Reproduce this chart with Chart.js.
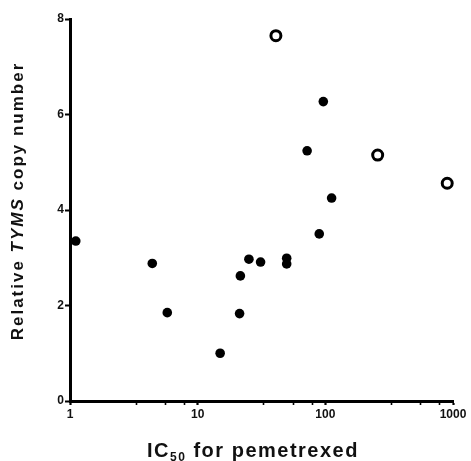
<!DOCTYPE html>
<html>
<head>
<meta charset="utf-8">
<script src="https://cdn.jsdelivr.net/npm/chart.js@4/dist/chart.umd.min.js"></script>
<style>
  html, body { margin: 0; padding: 0; background: #fff; }
  canvas { display: block; }
</style>
</head>
<body>
<canvas id="c" width="471" height="461"></canvas>
<script>
// IC50 for pemetrexed (x, log scale) vs relative TYMS copy number (y)
const filledX = [1.11, 4.41, 5.78, 15, 21.3, 21.6, 25.2, 31.1, 49.8, 49.8, 72, 89.6, 96.4, 112];
const filledY = [3.35, 2.88, 1.85, 1.0, 1.83, 2.62, 2.97, 2.91, 2.99, 2.87, 5.24, 3.50, 6.27, 4.25];
const openX = [41, 257, 901];
const openY = [7.65, 5.15, 4.56];
const xMajorTicks = [1, 10, 100, 1000];
const xMinorTicks = [3.3, 5.6, 7.9, 33, 56, 79, 330, 560, 790];
const yTicks = [0, 2, 4, 6, 8];

const FONT = '"Liberation Sans", Arial, Helvetica, sans-serif';

const titlePlugin = {
  id: 'titles',
  afterDraw(chart) {
    const ctx = chart.ctx;
    ctx.save();
    ctx.fillStyle = '#111';
    // Y title
    ctx.translate(18, 201);
    ctx.rotate(-Math.PI / 2);
    ctx.textBaseline = 'middle';
    ctx.letterSpacing = '2px';
    const ySegs = [
      { t: 'Relative ', f: 'bold 17px ' + FONT },
      { t: 'TYMS', f: 'italic bold 17px ' + FONT },
      { t: ' copy number', f: 'bold 17px ' + FONT }
    ];
    let total = 0;
    ySegs.forEach(s => { ctx.font = s.f; s.w = ctx.measureText(s.t).width; total += s.w; });
    let x = -total / 2;
    ySegs.forEach(s => { ctx.font = s.f; ctx.textAlign = 'left'; ctx.fillText(s.t, x, 0); x += s.w; });
    ctx.restore();

    // X title
    ctx.save();
    ctx.fillStyle = '#111';
    ctx.textBaseline = 'alphabetic';
    ctx.letterSpacing = '1.5px';
    const xSegs = [
      { t: 'IC', f: 'bold 20px ' + FONT, dy: 0 },
      { t: '50', f: 'bold 12px ' + FONT, dy: 4 },
      { t: ' for pemetrexed', f: 'bold 20px ' + FONT, dy: 0 }
    ];
    total = 0;
    xSegs.forEach(s => { ctx.font = s.f; s.w = ctx.measureText(s.t).width; total += s.w; });
    x = 253 - total / 2;
    xSegs.forEach(s => { ctx.font = s.f; ctx.textAlign = 'left'; ctx.fillText(s.t, x, 457 + s.dy); x += s.w; });
    ctx.restore();
  }
};

new Chart(document.getElementById('c'), {
  type: 'scatter',
  data: {
    datasets: [
      {
        label: 'filled',
        data: filledX.map((v, i) => ({ x: v, y: filledY[i] })),
        pointRadius: 4.8,
        pointHoverRadius: 4.8,
        backgroundColor: '#000',
        borderColor: '#000',
        borderWidth: 0,
        clip: false
      },
      {
        label: 'open',
        data: openX.map((v, i) => ({ x: v, y: openY[i] })),
        pointRadius: 5,
        pointHoverRadius: 5,
        backgroundColor: '#fff',
        borderColor: '#000',
        borderWidth: 3,
        clip: false
      }
    ]
  },
  options: {
    responsive: false,
    animation: false,
    events: [],
    layout: { padding: { left: 0, top: 19, right: 18, bottom: 0 } },
    plugins: { legend: { display: false }, tooltip: { enabled: false } },
    scales: {
      x: {
        type: 'logarithmic',
        min: 1,
        max: 1000,
        afterBuildTicks(axis) {
          axis.ticks = xMajorTicks.concat(xMinorTicks).sort((a, b) => a - b).map(v => ({ value: v, major: xMajorTicks.includes(v) }));
        },
        afterFit(axis) { axis.height = 60; },
        border: { display: true, color: '#000', width: 3 },
        grid: {
          drawOnChartArea: false,
          drawTicks: true,
          tickLength: 4,
          tickColor: '#000',
          tickWidth: (c) => (xMajorTicks.includes(c.tick && c.tick.value) ? 2.2 : 1.6)
        },
        ticks: {
          autoSkip: false,
          maxRotation: 0,
          padding: 2,
          color: '#111',
          font: { family: FONT, size: 12, weight: 'bold' },
          callback: (v) => (xMajorTicks.includes(v) ? String(v) : '')
        }
      },
      y: {
        min: 0,
        max: 8,
        afterBuildTicks(axis) { axis.ticks = yTicks.map(v => ({ value: v })); },
        afterFit(axis) { axis.width = 70; },
        border: { display: true, color: '#000', width: 3 },
        grid: {
          drawOnChartArea: false,
          drawTicks: true,
          tickLength: 5,
          tickColor: '#000',
          tickWidth: 2
        },
        ticks: {
          padding: 1,
          color: '#111',
          font: { family: FONT, size: 12, weight: 'bold' }
        }
      }
    }
  },
  plugins: [titlePlugin]
});
</script>
</body>
</html>
